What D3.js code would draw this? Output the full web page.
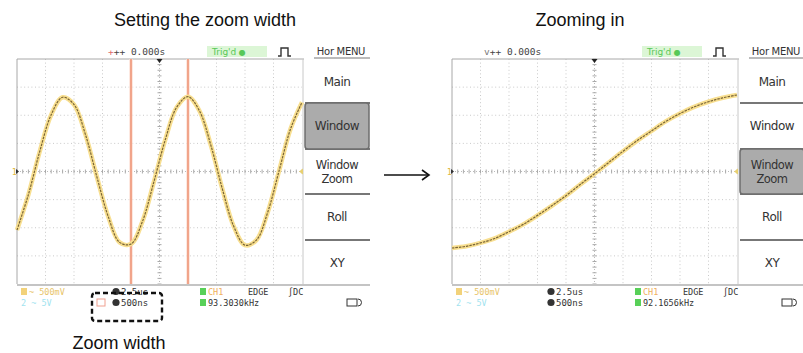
<!DOCTYPE html>
<html><head><meta charset="utf-8">
<script src="https://cdn.jsdelivr.net/npm/d3@7"></script>
<style>body{margin:0;background:#fff}svg{display:block}</style>
</head><body>
<svg id="c" width="803" height="353"></svg>
<script>
// ---------- data ----------
const titles = ["Setting the zoom width", "Zooming in"];
const zoomLabel = "Zoom width";
// left screen: 2.5us/div, 500mV/div
const leftTime  = [-12.5,-11.5,-10.5,-9.5,-8.5,-7.5,-6.5,-5.5,-4.5,-3.5,-2.5,-1.5,-0.5,0.5,1.5,2.5,3.5,4.5,5.5,6.5,7.5,8.5,9.5,10.5,11.5,12.5];
const leftVolts = [-1.04,-0.41,0.36,1.01,1.32,1.19,0.66,-0.09,-0.80,-1.26,-1.29,-0.89,-0.19,0.56,1.14,1.33,1.08,0.47,-0.30,-0.97,-1.31,-1.22,-0.72,0.02,0.76,1.23];
const zoomMarkers = [-2.5, 2.5];
// right screen: 500ns/div window
const rightTime  = [-2.5,-2.25,-2.0,-1.75,-1.5,-1.25,-1.0,-0.75,-0.5,-0.25,0,0.25,0.5,0.75,1.0,1.25,1.5,1.75,2.0,2.25,2.5];
const rightVolts = [-1.36,-1.33,-1.27,-1.19,-1.07,-0.94,-0.78,-0.61,-0.43,-0.23,-0.04,0.16,0.36,0.55,0.72,0.89,1.03,1.15,1.24,1.31,1.36];
const menuItems = ["Main", "Window", "Window|Zoom", "Roll", "XY"];
const headerTime = "0.000s";
const headerTrig = "Trig'd";
const headerMenu = "Hor MENU";
const chScale = ["1 ~ 500mV", "2 ~ 5V"];
const timebase = ["2.5us", "500ns"];
const trigInfo = ["CH1", "EDGE", "\u222BDC"];
const freqs = ["93.3030kHz", "92.1656kHz"];

// ---------- drawing ----------
const svg = d3.select("#c");
const mono = "'DejaVu Sans Mono', monospace";
const sans = "'DejaVu Sans', sans-serif";

function drawScreen(ox, cfg) {
  const g = svg.append("g");
  const x0 = 17 + ox, x1 = 302 + ox, y0 = 59, y1 = 284;
  const xDiv = d3.scaleLinear([-5, 5], [x0, x1]);
  const yDiv = d3.scaleLinear([-4, 4], [y1, y0]);
  const x = d3.scaleLinear(cfg.domain, [x0, x1]);
  const y = d3.scaleLinear([-2, 2], [y1, y0]);

  // grid
  g.selectAll(".gv").data(d3.range(-4, 5).filter(d => d !== 0)).join("line")
    .attr("x1", d => xDiv(d)).attr("x2", d => xDiv(d)).attr("y1", y0).attr("y2", y1)
    .attr("stroke", "#c9c9c9").attr("stroke-dasharray", "1,2.6");
  g.selectAll(".gh").data(d3.range(-3, 4).filter(d => d !== 0)).join("line")
    .attr("x1", x0).attr("x2", x1).attr("y1", d => yDiv(d)).attr("y2", d => yDiv(d))
    .attr("stroke", "#c9c9c9").attr("stroke-dasharray", "1,2.6");
  // centre lines with minor ticks
  g.append("line").attr("x1", xDiv(0)).attr("x2", xDiv(0)).attr("y1", y0).attr("y2", y1)
    .attr("stroke", "#bbb").attr("stroke-dasharray", "1,2");
  g.append("line").attr("x1", x0).attr("x2", x1).attr("y1", yDiv(0)).attr("y2", yDiv(0))
    .attr("stroke", "#bbb").attr("stroke-dasharray", "1,2");
  g.selectAll(".tv").data(d3.range(-20, 21)).join("line")
    .attr("x1", xDiv(0) - 2).attr("x2", xDiv(0) + 2)
    .attr("y1", d => yDiv(d / 5)).attr("y2", d => yDiv(d / 5))
    .attr("stroke", "#aaa");
  g.selectAll(".th").data(d3.range(-25, 26)).join("line")
    .attr("y1", yDiv(0) - 2).attr("y2", yDiv(0) + 2)
    .attr("x1", d => xDiv(d / 5)).attr("x2", d => xDiv(d / 5))
    .attr("stroke", "#aaa");

  // frame
  g.append("line").attr("x1", x0).attr("x2", x0).attr("y1", y0).attr("y2", y1).attr("stroke", "#a8a8a8");
  g.append("line").attr("x1", x0).attr("x2", x1 + 2).attr("y1", y0).attr("y2", y0).attr("stroke", "#a8a8a8");
  g.append("line").attr("x1", x1 + 1).attr("x2", x1 + 1).attr("y1", y0).attr("y2", y1).attr("stroke", "#c8c8c8");
  g.append("line").attr("x1", x0).attr("x2", x1 + 68).attr("y1", y1 + 1).attr("y2", y1 + 1).attr("stroke", "#c4c4c4").attr("stroke-width", 2);

  // zoom markers
  if (cfg.markers) {
    g.selectAll(".mk").data(cfg.markers).join("line")
      .attr("x1", d => x(d)).attr("x2", d => x(d)).attr("y1", y0).attr("y2", y1)
      .attr("stroke", "#fde0d6").attr("stroke-width", 3.5);
    g.selectAll(".mk2").data(cfg.markers).join("line")
      .attr("x1", d => x(d)).attr("x2", d => x(d)).attr("y1", y0).attr("y2", y1)
      .attr("stroke", "#e8744e").attr("stroke-width", 1.1);
  }

  // waveform
  const pts = cfg.t.map((t, i) => [t, cfg.v[i]]);
  const line = d3.line().x(d => x(d[0])).y(d => y(d[1])).curve(d3.curveCatmullRom);
  g.append("path").attr("d", line(pts)).attr("fill", "none")
    .attr("stroke", "#f8df90").attr("stroke-width", 4.5).attr("stroke-linejoin", "round");
  g.append("path").attr("d", line(pts)).attr("fill", "none")
    .attr("stroke", "#7a6535").attr("stroke-width", 1.2).attr("stroke-dasharray", "2.5,1");

  // ground / trigger markers
  g.append("text").attr("x", x0 - 5).attr("y", yDiv(0) + 3).attr("font-size", 8).attr("font-family", sans)
    .attr("fill", "#e0b840").text("1");
  g.append("path").attr("d", `M${x0 - 1},${yDiv(0) - 2.5}L${x0 + 2},${yDiv(0)}L${x0 - 1},${yDiv(0) + 2.5}Z`).attr("fill", "#333");
  g.append("path").attr("d", `M${x1 + 1},${yDiv(0) - 3}L${x1 - 3},${yDiv(0)}L${x1 + 1},${yDiv(0) + 3}Z`).attr("fill", "#e8d070");
  g.append("path").attr("d", `M${xDiv(0) - 3},${y0}L${xDiv(0) + 3},${y0}L${xDiv(0)},${y0 + 4}Z`).attr("fill", "#222");

  // header
  const hy = 55;
  const ht = g.append("text").attr("x", cfg.hdrX).attr("y", hy).attr("font-family", mono).attr("font-size", 9.5).attr("fill", "#444");
  ht.append("tspan").attr("fill", cfg.hdrFirstColor).text(cfg.hdrFirst);
  ht.append("tspan").text("++ " + headerTime);
  g.append("rect").attr("x", 207 + ox).attr("y", 46).attr("width", 60).attr("height", 11).attr("fill", "#dcf6d6");
  const tt = g.append("text").attr("x", 212 + ox).attr("y", hy).attr("font-family", sans).attr("font-size", 9).attr("fill", "#58c858");
  tt.append("tspan").text(headerTrig);
  tt.append("tspan").attr("font-size", 8).text(" \u25CF");
  g.append("path").attr("d", `M${278 + ox},56h3v-8h7v8h3`).attr("fill", "none").attr("stroke", "#333").attr("stroke-width", 1.4);
  g.append("text").attr("x", 341 + ox).attr("y", hy).attr("text-anchor", "middle").attr("font-family", sans)
    .attr("font-size", 10).attr("fill", "#333").attr("letter-spacing", -0.3).text(headerMenu);
  g.append("line").attr("x1", 314 + ox).attr("x2", 370 + ox).attr("y1", 58).attr("y2", 58).attr("stroke", "#777");

  // menu
  const mx = 305 + ox, mw = 65, mc = 337 + ox;
  const seps = [103, 149, 194, 240];
  const centers = [82, 126, 172, 217, 263];
  seps.forEach((s) => {
    g.append("line").attr("x1", mx).attr("x2", mx + mw).attr("y1", s).attr("y2", s)
      .attr("stroke", "#4a4a4a").attr("stroke-width", 1.6);
  });
  const hb = cfg.highlight;
  g.append("rect").attr("x", mx).attr("y", seps[hb - 1]).attr("width", mw - 1)
    .attr("height", seps[hb] - seps[hb - 1]).attr("rx", 3)
    .attr("fill", "#ababab").attr("stroke", "#6e6e6e").attr("stroke-width", 1.5);
  menuItems.forEach((m, i) => {
    const parts = m.split("|");
    parts.forEach((p, k) => {
      g.append("text").attr("text-anchor", "middle").attr("font-family", sans)
        .attr("font-size", parts.length > 1 ? 11.5 : 12).attr("fill", "#333").attr("letter-spacing", -0.5)
        .attr("x", mc).attr("y", centers[i] + 4 + (k - (parts.length - 1) / 2) * 14).text(p);
    });
  });

  // status lines
  const s1 = 295, s2 = 306;
  g.append("rect").attr("x", 21 + ox).attr("y", s1 - 7).attr("width", 6).attr("height", 7).attr("fill", "#f2d27a");
  g.append("text").attr("x", 29 + ox).attr("y", s1).attr("font-family", mono).attr("font-size", 8.5).attr("fill", "#e8c468").text(chScale[0].slice(2));
  g.append("text").attr("x", 21 + ox).attr("y", s2).attr("font-family", mono).attr("font-size", 8.5).attr("fill", "#9fe3ef").text(chScale[1]);
  [timebase[0], timebase[1]].forEach((tb, i) => {
    const yy = i ? s2 : s1;
    g.append("circle").attr("cx", 116 + ox).attr("cy", yy - 3.5).attr("r", 3.6).attr("fill", "#333");
    g.append("text").attr("x", 121 + ox).attr("y", yy).attr("font-family", mono).attr("font-size", 9).attr("fill", "#333").text(tb);
  });
  if (cfg.markers) {
    g.append("rect").attr("x", 97 + ox).attr("y", s2 - 7).attr("width", 8).attr("height", 7).attr("fill", "none").attr("stroke", "#f0a090");
  }
  g.append("rect").attr("x", 200 + ox).attr("y", s1 - 7).attr("width", 6).attr("height", 7).attr("fill", "#58d058");
  g.append("text").attr("x", 208 + ox).attr("y", s1).attr("font-family", mono).attr("font-size", 8.5).attr("fill", "#f0b060").text(trigInfo[0]);
  g.append("text").attr("x", 248 + ox).attr("y", s1).attr("font-family", mono).attr("font-size", 8.5).attr("fill", "#333").text(trigInfo[1]);
  g.append("text").attr("x", 288 + ox).attr("y", s1).attr("font-family", mono).attr("font-size", 8.5).attr("fill", "#333").text(trigInfo[2]);
  g.append("rect").attr("x", 200 + ox).attr("y", s2 - 7).attr("width", 6).attr("height", 7).attr("fill", "#58d058");
  g.append("text").attr("x", 208 + ox).attr("y", s2).attr("font-family", mono).attr("font-size", 8.5).attr("fill", "#333").text(cfg.freq);
  g.append("rect").attr("x", 347 + ox).attr("y", s2 - 7).attr("width", 10).attr("height", 7).attr("fill", "none").attr("stroke", "#333");
  g.append("path").attr("d", `M${358 + ox},${s2 - 7}a3.5,3.5 0 0 1 0,7`).attr("fill", "none").attr("stroke", "#333");
}

drawScreen(0, { domain: [-12.5, 12.5], t: leftTime, v: leftVolts, markers: zoomMarkers, highlight: 1,
  hdrX: 108, hdrFirst: "+", hdrFirstColor: "#e06a6a", freq: freqs[0] });
drawScreen(435, { domain: [-2.5, 2.5], t: rightTime, v: rightVolts, markers: null, highlight: 2,
  hdrX: 484, hdrFirst: "v", hdrFirstColor: "#777", freq: freqs[1] });

// titles
const tf = "'Liberation Sans', Arial, sans-serif";
svg.append("text").attr("x", 205).attr("y", 26).attr("text-anchor", "middle").attr("font-family", tf)
  .attr("font-size", 18).attr("fill", "#111").text(titles[0]);
svg.append("text").attr("x", 580).attr("y", 26).attr("text-anchor", "middle").attr("font-family", tf)
  .attr("font-size", 18).attr("fill", "#111").text(titles[1]);
svg.append("text").attr("x", 119).attr("y", 349).attr("text-anchor", "middle").attr("font-family", tf)
  .attr("font-size", 18).attr("fill", "#111").text(zoomLabel);

// dashed box around zoom width
svg.append("rect").attr("x", 92).attr("y", 293).attr("width", 70).attr("height", 28).attr("rx", 3)
  .attr("fill", "none").attr("stroke", "#111").attr("stroke-width", 2.4).attr("stroke-dasharray", "5,3");

// arrow
svg.append("path").attr("d", "M384,175H428").attr("stroke", "#111").attr("stroke-width", 1.6);
svg.append("path").attr("d", "M422,170L429,175L422,180").attr("fill", "none").attr("stroke", "#111").attr("stroke-width", 1.6);
</script>
</body></html>
